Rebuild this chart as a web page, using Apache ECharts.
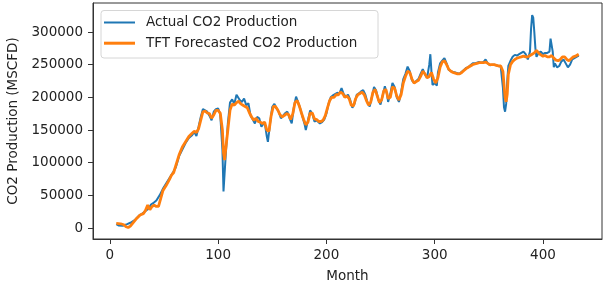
<!DOCTYPE html>
<html>
<head>
<meta charset="utf-8">
<title>CO2 Production</title>
<script src="https://cdn.jsdelivr.net/npm/echarts@6/dist/echarts.min.js"></script>
<style>
    html, body { margin: 0; padding: 0; background: #fff; }
    #main { width: 609px; height: 284px; }
</style>
</head>
<body>
<div id="main"></div>
<script>
// actual series
var actualMonths = [6, 8, 12, 16, 19, 23, 27, 30, 33, 36, 38, 40, 43, 46, 49, 52, 55, 58, 61, 64, 67, 70, 73, 76, 78, 80, 82, 84, 86, 88, 90, 92, 94, 96, 98, 100, 102, 104, 105, 106, 107, 109, 111, 113, 115, 117, 118, 120, 122, 124, 126, 128, 130, 132, 134, 136, 138, 140, 141, 143, 145, 146, 148, 150, 152, 154, 156, 158, 160, 162, 164, 166, 168, 170, 172, 174, 176, 178, 180, 181, 183, 185, 187, 189, 191, 194, 196, 198, 200, 202, 204, 206, 208, 210, 212, 214, 216, 218, 220, 222, 224, 226, 228, 230, 232, 234, 236, 238, 240, 242, 244, 246, 248, 250, 252, 254, 256, 257, 259, 261, 263, 265, 267, 269, 271, 273, 275, 277, 279, 281, 283, 285, 287, 289, 291, 293, 295, 296, 297, 298, 300, 302, 303, 305, 307, 309, 311, 313, 315, 317, 319, 321, 323, 325, 327, 329, 331, 333, 335, 337, 339, 341, 343, 345, 347, 349, 351, 353, 355, 357, 359, 361, 362, 363, 364, 365, 366, 367, 368, 370, 372, 374, 376, 378, 380, 382, 384, 386, 388, 389, 390, 391, 392, 393, 394, 396, 398, 400, 402, 404, 406, 407, 408, 409, 410, 411, 412, 413, 415, 417, 419, 421, 423, 425, 427, 429, 431, 433];
var actualValues = [6000, 4000, 3500, 6000, 8000, 12000, 19000, 22000, 26000, 30000, 36000, 38000, 42000, 50000, 60000, 68000, 76000, 84000, 93000, 110000, 120000, 130000, 138000, 142000, 147000, 141000, 155000, 170000, 182000, 180000, 178000, 172000, 165000, 178000, 182000, 183000, 174000, 120000, 56000, 57000, 110000, 160000, 192000, 197000, 190000, 204000, 206000, 196000, 193000, 198000, 188000, 191000, 172000, 166000, 160000, 170000, 168000, 155000, 153000, 162000, 140000, 132000, 160000, 185000, 190000, 183000, 178000, 168000, 172000, 176000, 178000, 168000, 160000, 185000, 201000, 192000, 182000, 170000, 158000, 150000, 165000, 180000, 175000, 163000, 165000, 160000, 162000, 166000, 175000, 190000, 200000, 203000, 205000, 207000, 206000, 214000, 205000, 201000, 204000, 196000, 184000, 190000, 204000, 206000, 209000, 211000, 204000, 192000, 186000, 200000, 216000, 210000, 196000, 189000, 203000, 217000, 205000, 193000, 205000, 222000, 216000, 200000, 193000, 208000, 228000, 236000, 247000, 240000, 226000, 222000, 225000, 228000, 236000, 243000, 235000, 230000, 250000, 266000, 240000, 219000, 222000, 218000, 238000, 252000, 256000, 260000, 252000, 242000, 240000, 239000, 238000, 237000, 236000, 239000, 242000, 245000, 246000, 249000, 252000, 252000, 253000, 254000, 253000, 254000, 258000, 252000, 249000, 250000, 250000, 249000, 248000, 247000, 244000, 215000, 185000, 178000, 190000, 225000, 248000, 256000, 262000, 265000, 264000, 266000, 268000, 270000, 266000, 258000, 270000, 305000, 326000, 322000, 300000, 275000, 262000, 268000, 270000, 266000, 268000, 268000, 270000, 290000, 292000, 270000, 246000, 252000, 251000, 246000, 248000, 255000, 258000, 252000, 246000, 250000, 258000, 260000, 262000, 264000];

// TFT forecast series
var forecastMonths = [6, 10, 13, 15, 17, 19, 22, 25, 28, 31, 33, 35, 37, 39, 41, 43, 45, 47, 49, 52, 55, 57, 59, 61, 64, 67, 70, 73, 76, 78, 80, 82, 84, 86, 88, 90, 92, 94, 96, 98, 100, 102, 104, 105, 106, 107, 109, 111, 113, 115, 117, 119, 121, 123, 125, 127, 129, 131, 133, 135, 137, 139, 141, 143, 145, 147, 149, 151, 153, 155, 157, 159, 161, 163, 165, 167, 169, 171, 173, 175, 177, 179, 181, 183, 185, 187, 189, 191, 193, 195, 197, 199, 201, 203, 205, 207, 209, 211, 213, 215, 217, 219, 221, 223, 225, 227, 229, 231, 233, 235, 237, 239, 241, 243, 245, 247, 249, 251, 253, 255, 257, 259, 261, 263, 265, 267, 269, 271, 273, 275, 277, 279, 281, 283, 285, 287, 289, 291, 293, 295, 297, 299, 301, 303, 305, 307, 309, 311, 313, 315, 317, 319, 321, 323, 325, 327, 329, 331, 333, 335, 337, 339, 341, 343, 345, 347, 349, 351, 353, 355, 357, 359, 361, 363, 364, 365, 366, 367, 368, 370, 372, 374, 376, 378, 380, 382, 384, 386, 388, 390, 392, 394, 396, 398, 400, 402, 404, 406, 408, 410, 412, 414, 416, 418, 420, 422, 424, 426, 428, 430, 433];
var forecastValues = [7000, 6500, 5000, 2000, 800, 3000, 9000, 15000, 20000, 22000, 27000, 35000, 28000, 33000, 35000, 33000, 33000, 45000, 57000, 65000, 74000, 81000, 85000, 96000, 112000, 124000, 132000, 140000, 145000, 148000, 146000, 152000, 165000, 178000, 179000, 176000, 175000, 168000, 173000, 180000, 180000, 176000, 150000, 115000, 104000, 120000, 150000, 180000, 190000, 188000, 192000, 194000, 190000, 188000, 186000, 184000, 176000, 170000, 165000, 168000, 163000, 162000, 160000, 162000, 150000, 148000, 172000, 186000, 186000, 181000, 174000, 170000, 172000, 175000, 174000, 166000, 175000, 192000, 195000, 187000, 176000, 166000, 158000, 162000, 176000, 176000, 167000, 166000, 163000, 163000, 165000, 172000, 184000, 195000, 200000, 200000, 204000, 204000, 208000, 206000, 200000, 202000, 198000, 188000, 187000, 198000, 204000, 206000, 208000, 204000, 195000, 188000, 193000, 208000, 212000, 202000, 192000, 196000, 210000, 212000, 198000, 200000, 216000, 214000, 202000, 196000, 204000, 222000, 232000, 240000, 238000, 228000, 222000, 224000, 226000, 232000, 240000, 236000, 230000, 232000, 238000, 228000, 222000, 230000, 246000, 254000, 256000, 250000, 243000, 240000, 238000, 237000, 236000, 236000, 238000, 241000, 244000, 246000, 248000, 250000, 251000, 252000, 253000, 253000, 253000, 254000, 252000, 250000, 250000, 250000, 249000, 248000, 248000, 240000, 220000, 200000, 193000, 205000, 235000, 250000, 255000, 258000, 260000, 261000, 262000, 263000, 262000, 262000, 264000, 266000, 268000, 272000, 268000, 265000, 263000, 264000, 262000, 262000, 264000, 260000, 257000, 256000, 258000, 262000, 262000, 258000, 256000, 259000, 262000, 263000, 266000];

var xTicks = [0, 100, 200, 300, 400];
var yTicks = [0, 50000, 100000, 150000, 200000, 250000, 300000];

function pairs(xs, ys) {
    var out = [];
    for (var i = 0; i < xs.length; i++) {
        out.push([xs[i], ys[i]]);
    }
    return out;
}

var font = 'DejaVu Sans';
var textColor = '#222';

var myChart = echarts.init(document.getElementById('main'), null, { renderer: 'canvas' });

var option = {
    animation: false,
    backgroundColor: '#fff',
    grid: {
        left: 93,
        right: 7,
        top: 3,
        bottom: 45,
        containLabel: false,
        outerBoundsMode: 'none',
        show: true,
        borderColor: '#333',
        borderWidth: 1,
        backgroundColor: 'transparent'
    },
    xAxis: {
        type: 'value',
        min: -15.5,
        max: 454.5,
        name: 'Month',
        nameLocation: 'middle',
        nameGap: 30,
        nameTextStyle: { fontFamily: font, fontSize: 13.5, color: textColor },
        axisLine: { show: true, onZero: false, lineStyle: { color: '#333', width: 1 } },
        splitLine: { show: false },
        axisTick: {
            show: true,
            inside: false,
            length: 5,
            customValues: xTicks,
            lineStyle: { color: '#333', width: 1 }
        },
        axisLabel: {
            customValues: xTicks,
            margin: 9,
            fontFamily: font,
            fontSize: 13.5,
            color: textColor,
            formatter: function (v) { return String(v); }
        }
    },
    yAxis: {
        type: 'value',
        min: -16800,
        max: 344400,
        name: 'CO2 Production (MSCFD)',
        nameLocation: 'middle',
        nameGap: 68,
        nameTextStyle: { fontFamily: font, fontSize: 13.5, color: textColor },
        axisLine: { show: true, onZero: false, lineStyle: { color: '#333', width: 1 } },
        splitLine: { show: false },
        axisTick: {
            show: true,
            inside: false,
            length: 5,
            customValues: yTicks,
            lineStyle: { color: '#333', width: 1 }
        },
        axisLabel: {
            customValues: yTicks,
            margin: 10,
            fontFamily: font,
            fontSize: 13.5,
            color: textColor,
            formatter: function (v) { return String(v); }
        }
    },
    // legend frame
    graphic: [{
        type: 'rect',
        z: 3,
        shape: { x: 101, y: 10.5, width: 277, height: 47.5, r: 3 },
        style: { fill: 'rgba(255,255,255,0.8)', stroke: '#d6d6d6', lineWidth: 1 }
    }],
    legend: [{
        left: 104,
        top: 14.5,
        padding: 0,
        itemWidth: 31,
        itemHeight: 2,
        icon: 'rect',
        data: ['Actual CO2 Production'],
        textStyle: { fontFamily: font, fontSize: 13.5, color: textColor, lineHeight: 16, padding: [0, 0, 0, 6] }
    }, {
        left: 104,
        top: 35.2,
        padding: 0,
        itemWidth: 31,
        itemHeight: 3,
        icon: 'rect',
        data: ['TFT Forecasted CO2 Production'],
        textStyle: { fontFamily: font, fontSize: 13.5, color: textColor, lineHeight: 16, padding: [0, 0, 0, 6] }
    }],
    series: [{
        name: 'Actual CO2 Production',
        type: 'line',
        showSymbol: false,
        symbol: 'none',
        data: pairs(actualMonths, actualValues),
        itemStyle: { color: '#1f77b4' },
        lineStyle: { color: '#1f77b4', width: 2 },
        z: 2
    }, {
        name: 'TFT Forecasted CO2 Production',
        type: 'line',
        showSymbol: false,
        symbol: 'none',
        data: pairs(forecastMonths, forecastValues),
        itemStyle: { color: '#ff7f0e' },
        lineStyle: { color: '#ff7f0e', width: 2.8 },
        z: 2
    }]
};

myChart.setOption(option);
</script>
</body>
</html>
